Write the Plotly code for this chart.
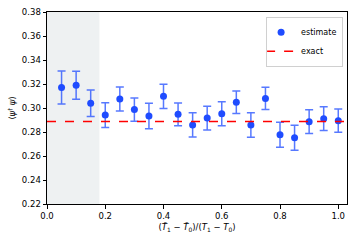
import plotly.graph_objects as go

x_vals = [0.05, 0.10, 0.15, 0.20, 0.25, 0.30, 0.35, 0.40, 0.45, 0.50,
          0.55, 0.60, 0.65, 0.70, 0.75, 0.80, 0.85, 0.90, 0.95, 1.00]
estimate = [0.3171, 0.3190, 0.3040, 0.2941, 0.3075, 0.2987, 0.2933, 0.3097, 0.2947, 0.2859,
            0.2916, 0.2952, 0.3048, 0.2859, 0.3080, 0.2777, 0.2752, 0.2886, 0.2911, 0.2894]
errors = [0.0137, 0.0117, 0.0110, 0.0103, 0.0100, 0.0097, 0.0106, 0.0101, 0.0095, 0.0101,
          0.0099, 0.0100, 0.0094, 0.0102, 0.0093, 0.0104, 0.0105, 0.0099, 0.0099, 0.0097]
exact_value = 0.2887
shade_end = 0.18

fig = go.Figure()
fig.add_trace(go.Scatter(
    x=x_vals, y=estimate, mode="markers", name="estimate",
    marker=dict(color="#1f4cff", size=7),
    error_y=dict(type="data", array=errors, visible=True,
                 color="rgba(31,76,255,0.75)", thickness=1.5, width=4),
))
fig.add_trace(go.Scatter(
    x=[0, 1.03], y=[exact_value, exact_value], mode="lines", name="exact",
    line=dict(color="#ff0000", width=1.5, dash="dash"),
))
fig.add_shape(type="rect", xref="x", yref="paper", x0=0, x1=shade_end, y0=0, y1=1,
              fillcolor="#eef1f2", line=dict(width=0), layer="below")

font = dict(family="DejaVu Sans", size=8.5, color="black")
fig.update_layout(
    width=355, height=241,
    margin=dict(l=47, r=7, t=9, b=37),
    paper_bgcolor="white", plot_bgcolor="white",
    font=font,
    showlegend=True,
    legend=dict(x=0.987, y=0.975, xanchor="right", yanchor="top",
                bgcolor="rgba(255,255,255,0.9)", bordercolor="#d0d0d0", borderwidth=1,
                font=dict(family="DejaVu Sans", size=8), itemwidth=30,
                tracegroupgap=0, indentation=-6),
    xaxis=dict(range=[0, 1.03], tickvals=[0, 0.2, 0.4, 0.6, 0.8, 1.0],
               ticktext=["0.0", "0.2", "0.4", "0.6", "0.8", "1.0"],
               showgrid=False, zeroline=False, showline=True, linecolor="black",
               linewidth=1, mirror=True, ticks="outside", ticklen=3.5, tickcolor="black",
               title=dict(text="(<i>T̄</i><sub>1</sub> − <i>T̄</i><sub>0</sub>)/(<i>T</i><sub>1</sub> − <i>T</i><sub>0</sub>)",
                          standoff=4, font=dict(size=8.5))),
    yaxis=dict(range=[0.22, 0.38], tickvals=[0.22, 0.24, 0.26, 0.28, 0.30, 0.32, 0.34, 0.36, 0.38],
               ticktext=["0.22", "0.24", "0.26", "0.28", "0.30", "0.32", "0.34", "0.36", "0.38"],
               showgrid=False, zeroline=False, showline=True, linecolor="black",
               linewidth=1, mirror=True, ticks="outside", ticklen=3.5, tickcolor="black",
               title=dict(text="⟨<i>ψ</i><sup>†</sup> <i>ψ</i>⟩", standoff=4, font=dict(size=8.5))),
)
fig.write_html("out.html", config={"displayModeBar": False},
               post_script="document.body.style.margin='0';")
